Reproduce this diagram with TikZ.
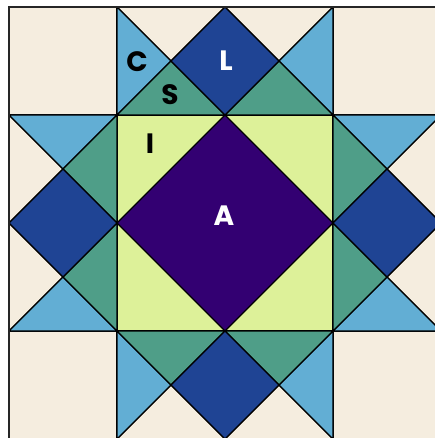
\documentclass[tikz,border=0pt]{standalone}
\usepackage{fontspec}
\setmainfont{Poppins}
\definecolor{cream}{HTML}{F5EDDF}
\definecolor{lblue}{HTML}{62AED4}
\definecolor{teal}{HTML}{4F9E88}
\definecolor{dblue}{HTML}{1F4494}
\definecolor{purp}{HTML}{330072}
\definecolor{lgreen}{HTML}{DDF199}
\tikzset{
  patch/.style={draw=black, line width=1.3pt, line join=round},
  lbl/.style={font=\fontsize{28}{28}\selectfont\bfseries, inner sep=0pt, anchor=center},
}
\begin{document}
\begin{tikzpicture}[x=1pt,y=-1pt]
\useasboundingbox (0,0) rectangle (435,438);
\fill[white] (0,0) rectangle (435,438);
\begin{scope}[shift={(9,7)}, x=54pt, y=-54pt]
  % corners
  \foreach \a/\b in {0/0,6/0,0/6,6/6}
    \path[patch, fill=cream] (\a,\b) rectangle ++(2,2);
  % center
  \path[patch, fill=lgreen] (2,2) rectangle (6,6);
  \path[patch, fill=purp] (4,2) -- (6,4) -- (4,6) -- (2,4) -- cycle;
  % four star points
  \foreach \r in {0,90,180,270}{
    \begin{scope}[rotate around={\r:(4,4)}]
      \path[patch, fill=cream] (2,0) -- (4,0) -- (3,1) -- cycle;
      \path[patch, fill=cream] (4,0) -- (6,0) -- (5,1) -- cycle;
      \path[patch, fill=lblue] (2,0) -- (3,1) -- (2,2) -- cycle;
      \path[patch, fill=lblue] (6,0) -- (5,1) -- (6,2) -- cycle;
      \path[patch, fill=teal] (2,2) -- (3,1) -- (4,2) -- cycle;
      \path[patch, fill=teal] (4,2) -- (5,1) -- (6,2) -- cycle;
      \path[patch, fill=dblue] (4,0) -- (5,1) -- (4,2) -- (3,1) -- cycle;
    \end{scope}
  }
  \draw[line width=1.5pt, draw=black!85] (0,0) rectangle (8,8);
\end{scope}
\node[lbl, text=black] (c) at (137,62) {C};
\node[lbl, text=black] (s) at (170,95) {S};
\node[lbl, text=white] (l) at (226,61) {L};
\node[lbl, text=black] (i) at (150,144) {I};
\node[lbl, text=white] (a) at (224,216) {A};
\end{tikzpicture}
\end{document}
